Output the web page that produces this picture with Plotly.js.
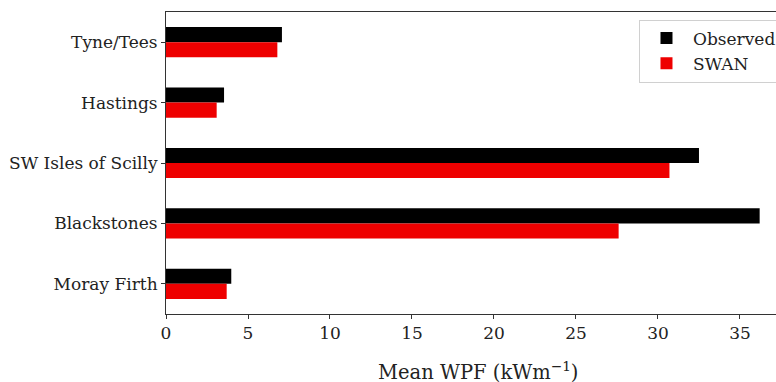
<!DOCTYPE html>
<html>
<head>
<meta charset="utf-8">
<script src="https://cdn.plot.ly/plotly-3.0.1.min.js"></script>
<style>
html, body { margin: 0; padding: 0; overflow: hidden; width: 776px; height: 382px; background: #fff; }
#chart { width: 810px; height: 382px; }
</style>
</head>
<body>
<div id="chart"></div>
<script>
const sites = ["Moray Firth", "Blackstones", "SW Isles of Scilly", "Hastings", "Tyne/Tees"];
const observed = [3.98, 36.2, 32.5, 3.54, 7.07];
const swan = [3.70, 27.6, 30.7, 3.09, 6.79];
const xTicks = [0, 5, 10, 15, 20, 25, 30, 35];
const xTitle = "Mean WPF (kWm<sup>−1</sup>)";

const font = "DejaVu Serif, Liberation Serif, serif";
const traces = [
  {
    type: "bar", orientation: "h", name: "Observed",
    y: sites, x: observed,
    width: 0.25, offset: 0,
    marker: { color: "#000000" }
  },
  {
    type: "bar", orientation: "h", name: "SWAN",
    y: sites, x: swan,
    width: 0.25, offset: -0.25,
    marker: { color: "#ee0000" }
  }
];

const layout = {
  width: 810, height: 382,
  margin: { l: 166, r: 20, t: 12, b: 68 },
  barmode: "overlay",
  paper_bgcolor: "#fff", plot_bgcolor: "#fff",
  font: { family: font, color: "#222", size: 17 },
  showlegend: true,
  legend: {
    x: 0.758, y: 0.975, xanchor: "left", yanchor: "top",
    bgcolor: "#fff", bordercolor: "#d0d0d0", borderwidth: 1,
    font: { family: font, size: 17, color: "#222" },
    itemwidth: 43,
    traceorder: "normal"
  },
  xaxis: {
    range: [0, 38.05],
    tickvals: xTicks, ticktext: xTicks.map(String),
    showgrid: false, zeroline: false,
    showline: true, mirror: true, linecolor: "#333", linewidth: 1,
    ticks: "outside", ticklen: 4, tickcolor: "#333",
    tickfont: { family: font, size: 17, color: "#222" }
  },
  yaxis: {
    type: "category",
    range: [-0.5, 4.5],
    showgrid: false, zeroline: false,
    showline: true, mirror: false, linecolor: "#333", linewidth: 1,
    ticks: "outside", ticklen: 4, tickcolor: "#333",
    tickfont: { family: font, size: 17, color: "#222" }
  },
  annotations: [{
    text: xTitle, xref: "paper", yref: "paper", x: 0.5, y: 0,
    xanchor: "center", yanchor: "top", yshift: -42, showarrow: false,
    font: { family: font, size: 19.5, color: "#222" }
  }]
};

Plotly.newPlot("chart", traces, layout, { displayModeBar: false, staticPlot: true });
</script>
</body>
</html>
